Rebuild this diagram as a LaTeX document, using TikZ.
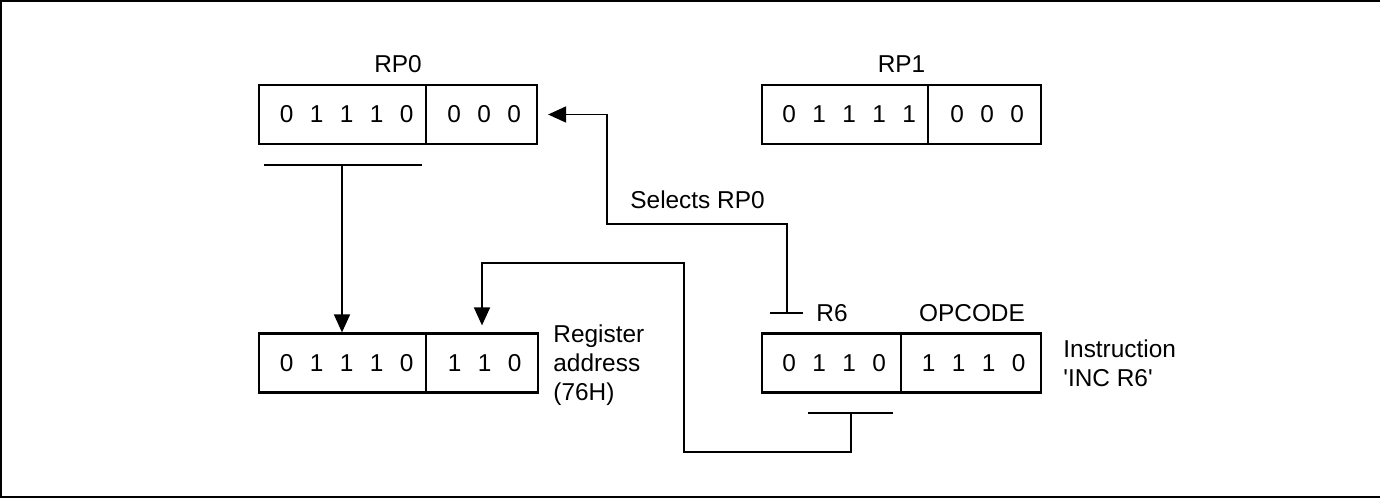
\documentclass[tikz,border=0pt]{standalone}
\usepackage{fontspec}
\setmainfont{Liberation Sans}
\usetikzlibrary{arrows.meta}
\newcommand\gp{\hspace{8.2pt}}
\newcommand\shL{\hspace*{4.2pt}}
\newcommand\shR{\hspace*{2.6pt}}
\begin{document}
\begin{tikzpicture}[x=0.5pt,y=-0.5pt,
  every node/.style={font=\fontsize{12.2}{14.5}\selectfont},
  reg/.style={draw, line width=1.1pt, minimum height=29.5pt, inner sep=0pt},
  lbl/.style={inner sep=0pt},
  wire/.style={line width=0.85pt},
  arr/.style={wire, -{Triangle[length=9pt,width=8pt]}},
  frame/.style={line width=1pt}
]
\useasboundingbox (0,0) rectangle (1380,498);
\draw[frame] (1380,1) -- (1,1) -- (1,497) -- (1380,497);

% RP0
\node[reg, minimum width=83.5pt] (rp0a) at (342.5,114.5) {\shL0\gp1\gp1\gp1\gp0};
\node[reg, minimum width=55.5pt] (rp0b) at (481.5,114.5) {\shR0\gp0\gp0};
\node[lbl, anchor=base] (rp0l) at (398,72) {RP0};
% RP1
\node[reg, minimum width=83pt] (rp1a) at (845,114.5) {\shL0\gp1\gp1\gp1\gp1};
\node[reg, minimum width=56.5pt] (rp1b) at (984.5,114.5) {\shR0\gp0\gp0};
\node[lbl, anchor=base] (rp1l) at (901.5,72) {RP1};
% Register address
\node[reg, minimum width=83.5pt] (rega) at (342.5,363) {\shL0\gp1\gp1\gp1\gp0};
\node[reg, minimum width=56pt] (regb) at (482,363) {\shR1\gp1\gp0};
\node[lbl, anchor=north west, align=left] (regl) at (553,324.5) {Register\\address\\(76H)};
% Instruction
\node[reg, minimum width=69.5pt] (insa) at (831.5,363) {\shR0\gp1\gp1\gp0};
\node[reg, minimum width=70pt] (insb) at (971,363) {\shR1\gp1\gp1\gp0};
\node[lbl, anchor=base west] (r6) at (816,321) {R6};
\node[lbl, anchor=base] (opc) at (972,321) {OPCODE};
\node[lbl, anchor=north west, align=left] (insl) at (1063,339.5) {Instruction\\\textquotesingle INC R6\textquotesingle};
\node[lbl, anchor=base west] (sel) at (630,208) {Selects RP0};

% bars
\coordinate (b0l) at (264,165); \coordinate (b0r) at (422,165); \coordinate (b0m) at (342,165);
\coordinate (t6l) at (770,313); \coordinate (t6r) at (803,313); \coordinate (t6m) at (787,313);
\coordinate (bil) at (808,413); \coordinate (bir) at (893,413); \coordinate (bim) at (851,413);
\draw[wire] (b0l) -- (b0r);
\draw[wire] (t6l) -- (t6r);
\draw[wire] (bil) -- (bir);

% connectors
\draw[arr] (b0m) -- (b0m |- rega.north);
\draw[arr] (t6m) -- (787,224) -- (607,224) -- (607,114.5) -- ([xshift=5pt]rp0b.east);
\draw[arr] (bim) -- (851,452) -- (684,452) -- (684,263) -- (482,263) -- ([yshift=3.5pt]regb.north);
\end{tikzpicture}
\end{document}
